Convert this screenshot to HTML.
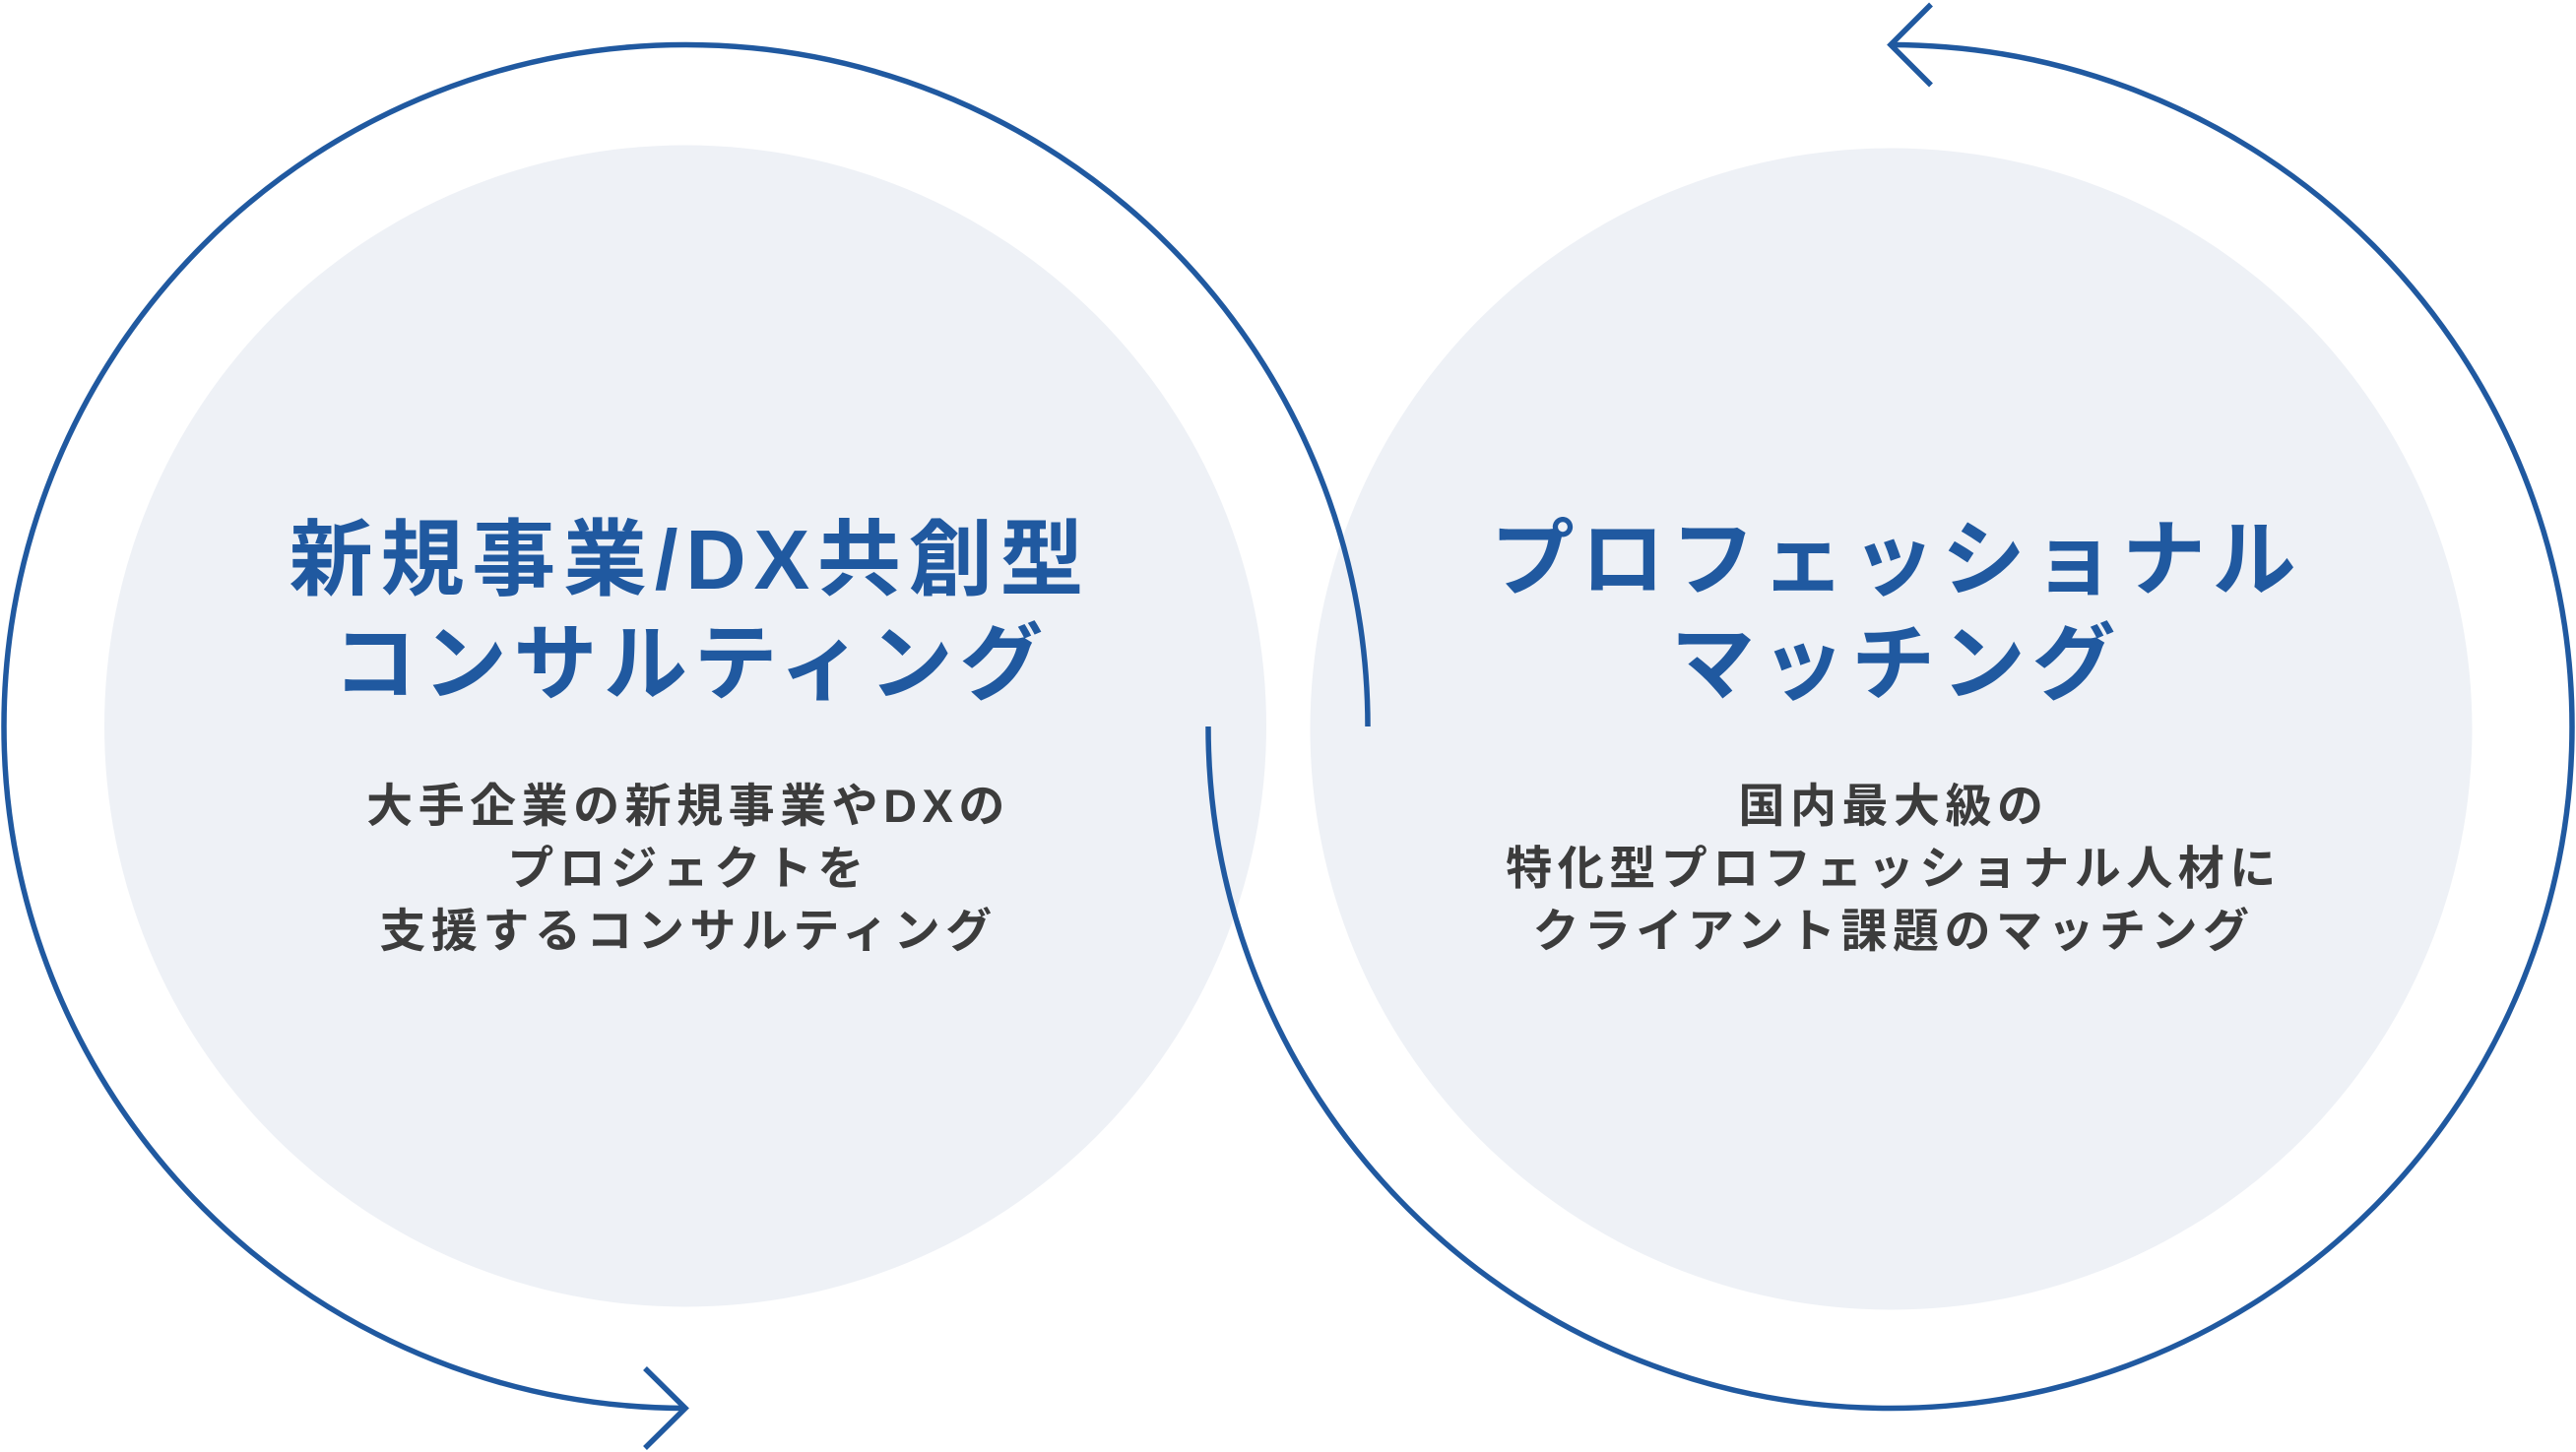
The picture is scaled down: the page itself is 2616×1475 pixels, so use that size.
<!DOCTYPE html>
<html lang="ja">
<head>
<meta charset="utf-8">
<style>
  html, body { margin: 0; padding: 0; background: #ffffff; }
  body { width: 2616px; height: 1475px; overflow: hidden; }
  svg { display: block; }
  .t { font-family: "Liberation Sans", "Noto Sans CJK JP", sans-serif; font-weight: 700; }
  .title { fill: #2059a0; font-size: 85px; letter-spacing: 6.6px; }
  .title1 { letter-spacing: 7.8px; }
  .sub { fill: #3c3c3c; font-size: 47px; letter-spacing: 5.5px; }
</style>
</head>
<body>
<svg width="2616" height="1475" viewBox="0 0 2616 1475" xmlns="http://www.w3.org/2000/svg">
  <!-- filled circles -->
  <circle cx="696" cy="737.5" r="590" fill="#eef1f6"/>
  <circle cx="1920.5" cy="740.5" r="590" fill="#eef1f6"/>

  <!-- left arc with arrow -->
  <path d="M 1389 738 A 692.5 692.5 0 1 0 696 1430.5" fill="none" stroke="#2059a0" stroke-width="5.5"/>
  <path d="M 655 1390 L 696 1430.5 L 655 1471" fill="none" stroke="#2059a0" stroke-width="5.5" stroke-linejoin="miter"/>

  <!-- right arc with arrow -->
  <path d="M 1227 738 A 692.5 692.5 0 1 0 1920 45.5" fill="none" stroke="#2059a0" stroke-width="5.5"/>
  <path d="M 1961 4.5 L 1920 45.5 L 1961 86.5" fill="none" stroke="#2059a0" stroke-width="5.5" stroke-linejoin="miter"/>

  <!-- left texts -->
  <text class="t title title1" x="701" y="598" text-anchor="middle">新規事業/DX共創型</text>
  <text class="t title" x="702" y="704" text-anchor="middle">コンサルティング</text>

  <text class="t sub" x="699" y="835" text-anchor="middle">大手企業の新規事業やDXの</text>
  <text class="t sub" x="699" y="898.5" text-anchor="middle">プロジェクトを</text>
  <text class="t sub" x="699" y="962" text-anchor="middle">支援するコンサルティング</text>

  <!-- right texts -->
  <text class="t title" x="1926" y="598" text-anchor="middle">プロフェッショナル</text>
  <text class="t title" x="1926" y="704" text-anchor="middle">マッチング</text>

  <text class="t sub" x="1923" y="835" text-anchor="middle">国内最大級の</text>
  <text class="t sub" x="1923" y="898.5" text-anchor="middle">特化型プロフェッショナル人材に</text>
  <text class="t sub" x="1923" y="962" text-anchor="middle">クライアント課題のマッチング</text>
</svg>
</body>
</html>
